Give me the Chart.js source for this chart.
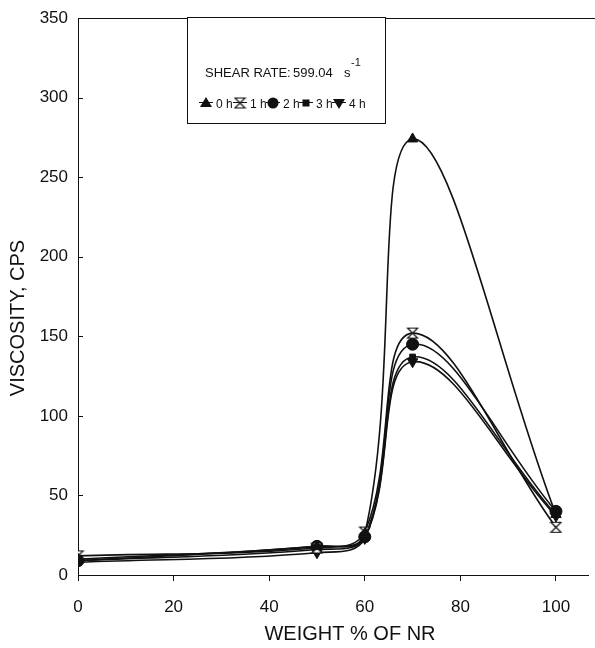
<!DOCTYPE html>
<html>
<head>
<meta charset="utf-8">
<script src="https://cdn.jsdelivr.net/npm/chart.js@4/dist/chart.umd.min.js"></script>
<style>
  html, body { margin: 0; padding: 0; background: #fff; }
  #wrap { width: 595px; height: 648px; }
</style>
</head>
<body>
<div id="wrap"><canvas id="viscChart" width="595" height="648"></canvas></div>
<script>
// ── data ───────────────────────────────────────
const weightNR = [0, 50, 60, 70, 100];
const visc0h = [10, 18, 26, 274, 38];
const visc1h = [12, 17, 27, 152, 30];
const visc2h = [9, 18, 24, 145, 40];
const visc3h = [9, 16, 24, 137, 38];
const visc4h = [8, 14, 23, 134, 37];
const seriesNames = ['0 h', '1 h', '2 h', '3 h', '4 h'];
const yTicks = [0, 50, 100, 150, 200, 250, 300, 350];
const xTicks = [0, 20, 40, 60, 80, 100];

const FONT = '"Liberation Sans", Arial, Helvetica, sans-serif';
const INK = '#111';

// hourglass marker (open)
const hourglass = (() => {
  const c = document.createElement('canvas');
  c.width = 13; c.height = 13;
  const g = c.getContext('2d');
  g.fillStyle = '#fff'; g.strokeStyle = INK; g.lineWidth = 1.2;
  g.beginPath();
  g.moveTo(1.5, 1.5); g.lineTo(11.5, 1.5); g.lineTo(1.5, 11.5); g.lineTo(11.5, 11.5); g.closePath();
  g.fill(); g.stroke();
  return c;
})();

const pts = (ys) => weightNR.map((x, i) => ({ x, y: ys[i] }));

const markerDefs = [
  { style: 'triangle', rot: 0, r: 6 },
  { style: hourglass, rot: 0, r: 6 },
  { style: 'circle', rot: 0, r: 6 },
  { style: 'rect', rot: 0, r: 4 },
  { style: 'triangle', rot: 180, r: 6 },
];

const allSeries = [visc0h, visc1h, visc2h, visc3h, visc4h];

const datasets = allSeries.map((ys, i) => ({
  label: seriesNames[i],
  data: pts(ys),
  borderColor: INK,
  backgroundColor: INK,
  borderWidth: 1.6,
  pointStyle: markerDefs[i].style,
  rotation: markerDefs[i].rot,
  pointRadius: markerDefs[i].r,
  pointBorderWidth: 1,
  tension: 0.4,
  fill: false,
}));

// own marker drawing for the legend box
function drawMarker(ctx, i, x, y) {
  const m = markerDefs[i];
  ctx.save();
  ctx.fillStyle = INK; ctx.strokeStyle = INK; ctx.lineWidth = 1;
  ctx.beginPath();
  if (m.style === hourglass) {
    ctx.drawImage(hourglass, x - 6.5, y - 6.5);
  } else if (m.style === 'circle') {
    ctx.arc(x, y, 5.5, 0, Math.PI * 2); ctx.fill();
  } else if (m.style === 'rect') {
    ctx.fillRect(x - 3.5, y - 3.5, 7, 7);
  } else {
    const d = m.rot ? -1 : 1;
    ctx.moveTo(x, y - 6 * d); ctx.lineTo(x + 6, y + 4 * d); ctx.lineTo(x - 6, y + 4 * d); ctx.closePath(); ctx.fill();
  }
  ctx.restore();
}

const frame = {
  id: 'frame',
  afterDraw(chart) {
    const { ctx, chartArea: a, scales } = chart;
    ctx.save();
    ctx.strokeStyle = INK; ctx.lineWidth = 1;
    // top border
    ctx.beginPath(); ctx.moveTo(a.left, a.top + 0.5); ctx.lineTo(595, a.top + 0.5); ctx.stroke();
    // inside y ticks
    yTicks.forEach(v => {
      const py = Math.round(scales.y.getPixelForValue(v)) + 0.5;
      ctx.beginPath(); ctx.moveTo(a.left, py); ctx.lineTo(a.left + 5, py); ctx.stroke();
    });

    // axis titles
    ctx.fillStyle = INK;
    ctx.font = '20px ' + FONT;
    ctx.textAlign = 'center'; ctx.textBaseline = 'middle';
    ctx.fillText('WEIGHT % OF NR', 350, 634);
    ctx.save();
    ctx.translate(18, 318); ctx.rotate(-Math.PI / 2);
    ctx.fillText('VISCOSITY, CPS', 0, 0);
    ctx.restore();

    // legend box
    const bx = 187, by = 17, bw = 198, bh = 106;
    ctx.fillStyle = '#fff';
    ctx.fillRect(bx, by, bw, bh);
    ctx.strokeRect(bx + 0.5, by + 0.5, bw, bh);
    ctx.fillStyle = INK;
    ctx.textAlign = 'left'; ctx.textBaseline = 'alphabetic';
    ctx.font = '13px ' + FONT;
    ctx.fillText('SHEAR RATE:', 205, 77);
    ctx.fillText('599.04', 293, 77);
    ctx.fillText('s', 344, 77);
    ctx.font = '11px ' + FONT;
    ctx.fillText('-1', 351, 66);

    ctx.font = '12px ' + FONT;
    const itemX = [206, 240, 273, 306, 339];
    const ly = 103;
    itemX.forEach((x, i) => {
      ctx.beginPath(); ctx.moveTo(x - 7, ly - 0.5); ctx.lineTo(x + 7, ly - 0.5); ctx.stroke();
      drawMarker(ctx, i, x, ly);
      ctx.fillText(seriesNames[i], x + 10, ly + 5);
    });
    ctx.restore();
  }
};

new Chart(document.getElementById('viscChart').getContext('2d'), {
  type: 'line',
  data: { datasets },
  options: {
    responsive: false,
    animation: false,
    layout: { padding: { top: 18, right: 0, left: 0, bottom: 0 } },
    plugins: { legend: { display: false }, tooltip: { enabled: false } },
    scales: {
      x: {
        type: 'linear', min: 0, max: 106.7,
        afterBuildTicks: s => { s.ticks = xTicks.map(v => ({ value: v })); },
        afterFit: s => { s.height = 73; },
        grid: { drawOnChartArea: false, tickLength: 6, color: INK },
        border: { color: INK, width: 1 },
        ticks: { color: INK, padding: 16, font: { family: FONT, size: 17 } },
        title: { display: false, text: 'WEIGHT % OF NR' }
      },
      y: {
        type: 'linear', min: 0, max: 350,
        afterBuildTicks: s => { s.ticks = yTicks.map(v => ({ value: v })); },
        afterFit: s => { s.width = 78; },
        grid: { display: false },
        border: { color: INK, width: 1 },
        ticks: { color: INK, padding: 2, font: { family: FONT, size: 17 } },
        title: { display: false, text: 'VISCOSITY, CPS' }
      }
    }
  },
  plugins: [frame]
});
</script>
</body>
</html>
